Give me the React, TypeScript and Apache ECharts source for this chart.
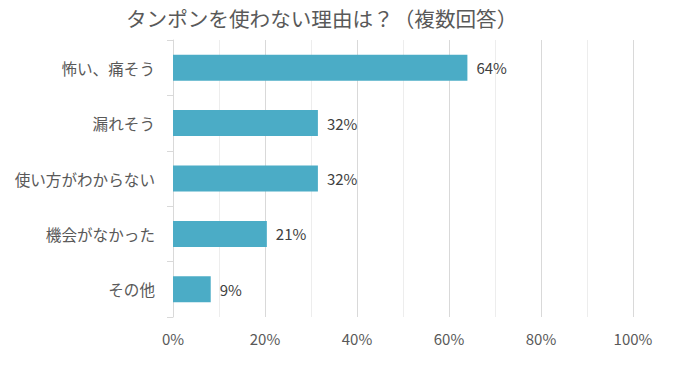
import React, { useEffect, useRef } from "react";
import * as echarts from "echarts";

const titleText = "タンポンを使わない理由は？（複数回答）";
const categories = ["怖い、痛そう", "漏れそう", "使い方がわからない", "機会がなかった", "その他"];
const values = [64, 31.5, 31.5, 20.4, 8.2];
const valueLabels = ["64%", "32%", "32%", "21%", "9%"];

const FONT = '"Noto Sans CJK JP", "Noto Sans", sans-serif';

export default function App() {
  const ref = useRef<HTMLDivElement>(null);
  useEffect(() => {
    if (!ref.current) return;
    const chart = echarts.init(ref.current, undefined, { renderer: "svg" });
    chart.setOption({
      animation: false,
      backgroundColor: "#ffffff",
      textStyle: { fontFamily: FONT },
      title: {
        text: titleText,
        left: 126,
        top: 8,
        padding: 0,
        textStyle: { fontFamily: FONT, fontSize: 20.6, fontWeight: "normal", color: "#595959" },
      },
      grid: { left: 173, right: 45, top: 40, bottom: 50, containLabel: false },
      xAxis: {
        type: "value",
        min: 0,
        max: 100,
        interval: 20,
        axisLine: { show: false },
        axisTick: { show: false },
        axisLabel: {
          formatter: (v: number) => v + "%",
          color: "#595959",
          fontSize: 15,
          fontFamily: FONT,
          margin: 14,
        },
        splitLine: { show: true, lineStyle: { color: "#d9d9d9", width: 1 } },
        minorTick: { show: false, splitNumber: 2 },
        minorSplitLine: { show: true, lineStyle: { color: "#ededed", width: 1 } },
      },
      yAxis: {
        type: "category",
        data: categories,
        inverse: true,
        axisLine: { show: true, lineStyle: { color: "#d9d9d9", width: 1 } },
        axisTick: { show: true, length: 6, lineStyle: { color: "#d9d9d9" } },
        axisLabel: { color: "#595959", fontSize: 15.6, fontFamily: FONT, margin: 18 },
        splitLine: { show: false },
      },
      series: [
        {
          type: "bar",
          data: values,
          barWidth: 26,
          itemStyle: { color: "#4bacc6" },
          label: {
            show: true,
            position: "right",
            distance: 9,
            color: "#404040",
            fontSize: 15,
            fontFamily: FONT,
            formatter: (p: any) => valueLabels[p.dataIndex],
          },
        },
      ],
    });
    return () => chart.dispose();
  }, []);
  return (
    <div
      ref={ref}
      style={{ position: "fixed", left: 0, top: 0, width: 678, height: 367 }}
    />
  );
}
